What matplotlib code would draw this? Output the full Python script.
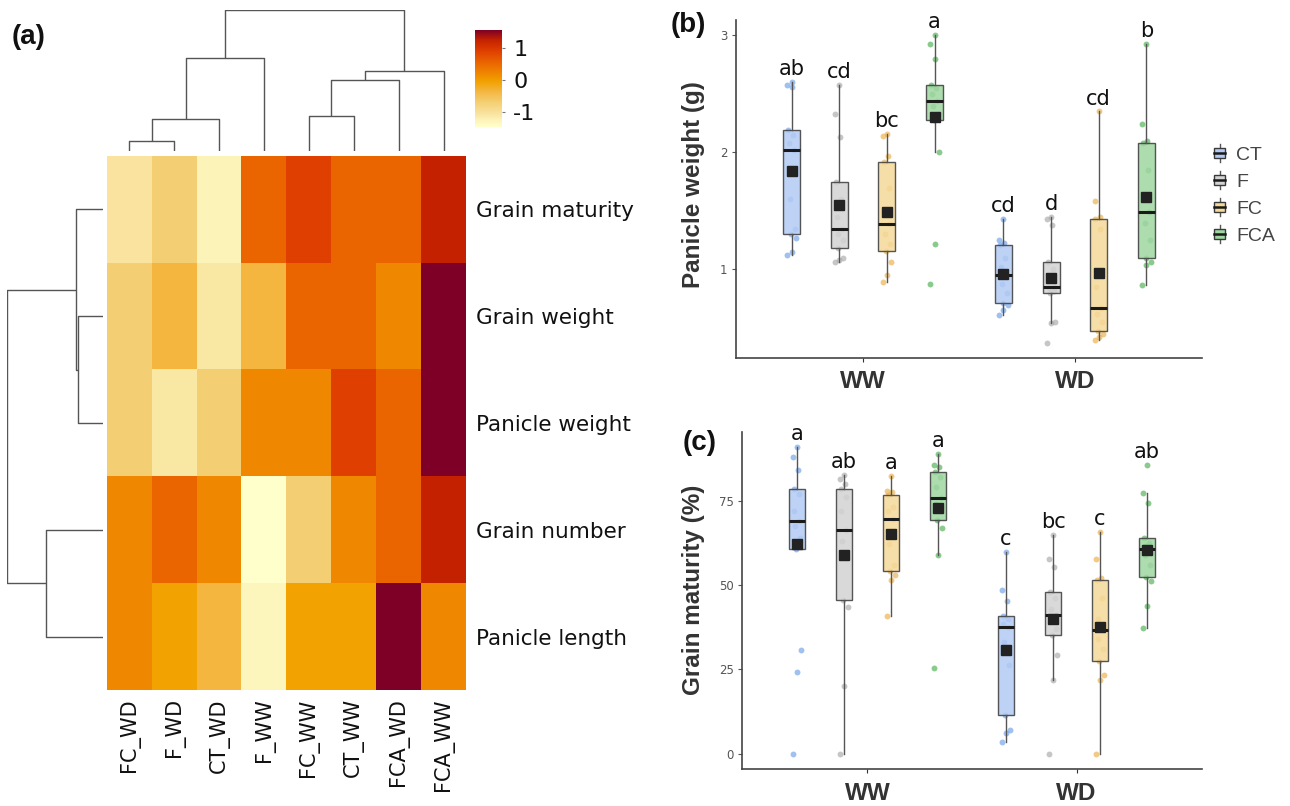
import numpy as np
import matplotlib
matplotlib.use("Agg")
import matplotlib.pyplot as plt
from matplotlib.colors import LinearSegmentedColormap
from matplotlib.legend_handler import HandlerBase
from matplotlib.patches import Rectangle
from matplotlib.lines import Line2D

# ---------------- data ----------------
hm_cols = ["FC_WD", "F_WD", "CT_WD", "F_WW", "FC_WW", "CT_WW", "FCA_WD", "FCA_WW"]
hm_rows = ["Grain maturity", "Grain weight", "Panicle weight", "Grain number", "Panicle length"]
grain_maturity = [-1.05, -0.70, -1.25, 0.55, 0.90, 0.55, 0.55, 1.25]
grain_weight = [-0.70, -0.35, -1.10, -0.35, 0.55, 0.55, 0.20, 1.56]
panicle_weight_z = [-0.70, -1.10, -0.70, 0.20, 0.20, 0.90, 0.55, 1.56]
grain_number = [0.20, 0.55, 0.20, -1.47, -0.70, 0.20, 0.55, 1.25]
panicle_length = [0.20, -0.05, -0.35, -1.30, -0.05, -0.05, 1.56, 0.20]
cbar_ticks = [-1, 0, 1]

# dendrogram merges (child a, child b, height); clusters numbered n, n+1, ...
col_merges = [(0, 1, 0.071), (8, 2, 0.227), (9, 3, 0.66), (4, 5, 0.248),
              (11, 6, 0.50), (12, 7, 0.567), (10, 13, 1.0)]
row_merges = [(1, 2, 0.257), (0, 5, 0.277), (3, 4, 0.59), (6, 7, 1.0)]

groups = ["CT", "F", "FC", "FCA"]
conditions = ["WW", "WD"]

# Panicle weight (g)
pw_ww_ct = [1.12, 1.15, 1.27, 1.30, 1.35, 1.60, 2.02, 2.08, 2.15, 2.19, 2.56, 2.58, 2.60]
pw_ww_f = [1.065, 1.08, 1.10, 1.18, 1.25, 1.30, 1.345, 1.45, 1.60, 1.745, 2.13, 2.33, 2.58]
pw_ww_fc = [0.89, 0.95, 1.06, 1.155, 1.22, 1.30, 1.385, 1.50, 1.70, 1.92, 1.97, 2.14, 2.155]
pw_ww_fca = [0.88, 1.22, 2.00, 2.277, 2.33, 2.40, 2.44, 2.50, 2.55, 2.575, 2.80, 2.93, 3.00]
pw_wd_ct = [0.61, 0.65, 0.70, 0.716, 0.80, 0.88, 0.95, 1.02, 1.10, 1.205, 1.23, 1.25, 1.43]
pw_wd_f = [0.375, 0.54, 0.55, 0.796, 0.82, 0.84, 0.847, 0.92, 1.00, 1.062, 1.38, 1.43, 1.448]
pw_wd_fc = [0.398, 0.42, 0.45, 0.478, 0.55, 0.62, 0.668, 0.85, 1.35, 1.434, 1.45, 1.584, 2.35]
pw_wd_fca = [0.866, 1.04, 1.065, 1.102, 1.25, 1.40, 1.49, 1.60, 1.85, 2.078, 2.10, 2.24, 2.923]
pw_letters = ["ab", "cd", "bc", "a", "cd", "d", "cd", "b"]

# Grain maturity (%)
gm_ww_ct = [0.0, 24.2, 30.6, 60.7, 64.0, 67.5, 69.1, 72.0, 77.0, 78.5, 84.0, 88.0, 90.8]
gm_ww_f = [0.0, 20.0, 43.4, 45.5, 58.0, 63.0, 66.4, 72.0, 76.0, 78.5, 80.0, 81.5, 82.6]
gm_ww_fc = [40.7, 51.5, 53.0, 54.2, 56.0, 62.0, 69.7, 72.0, 73.0, 76.8, 77.5, 78.0, 82.2]
gm_ww_fca = [25.4, 58.8, 66.9, 69.2, 73.0, 74.0, 75.8, 79.0, 82.0, 83.4, 85.0, 85.5, 88.8]
gm_wd_ct = [3.6, 6.1, 7.1, 11.5, 26.2, 33.0, 37.4, 38.5, 40.0, 40.9, 45.3, 48.6, 59.8]
gm_wd_f = [0.0, 21.8, 29.2, 35.2, 37.0, 39.5, 41.2, 43.0, 46.0, 48.0, 55.2, 57.6, 64.7]
gm_wd_fc = [0.0, 21.8, 23.3, 27.4, 31.0, 34.0, 36.8, 40.0, 46.0, 51.5, 52.0, 57.6, 65.7]
gm_wd_fca = [37.2, 43.9, 51.2, 52.4, 56.0, 59.0, 60.6, 61.5, 62.5, 63.8, 74.3, 77.2, 85.6]
gm_letters = ["a", "ab", "a", "a", "c", "bc", "c", "ab"]

# ---------------- style ----------------
W, H = 1290, 806
plt.rcParams["font.family"] = ["DejaVu Sans"]
fig = plt.figure(figsize=(W / 100, H / 100), dpi=100)


def add_ax(x0, y0, x1, y1):
    return fig.add_axes([x0 / W, 1 - y1 / H, (x1 - x0) / W, (y1 - y0) / H])


cmap = LinearSegmentedColormap.from_list(
    "hm",
    [(0.00, "#FFFFCC"), (0.073, "#FCF3B8"), (0.139, "#F9E39E"), (0.254, "#F5CF73"),
     (0.370, "#F4B63F"), (0.469, "#F2A200"), (0.551, "#F08800"), (0.667, "#EA6500"),
     (0.782, "#E04000"), (0.898, "#C52200"), (1.00, "#7E0026")])
vmin, vmax = -1.47, 1.56

# ---------------- panel (a) heatmap ----------------
hx0, hx1, hy0, hy1 = 107, 466, 156, 690
ax_hm = add_ax(hx0, hy0, hx1, hy1)
mat = np.array([grain_maturity, grain_weight, panicle_weight_z, grain_number, panicle_length])
ax_hm.imshow(mat, cmap=cmap, vmin=vmin, vmax=vmax, aspect="auto", interpolation="nearest")
ax_hm.set_xticks(range(len(hm_cols)))
ax_hm.set_xticklabels(hm_cols, rotation=90, fontsize=15, color="#111")
ax_hm.set_yticks(range(len(hm_rows)))
ax_hm.set_yticklabels(hm_rows, fontsize=15.5, color="#111")
ax_hm.yaxis.tick_right()
ax_hm.tick_params(axis="both", length=0)
ax_hm.tick_params(axis="x", pad=6)
ax_hm.tick_params(axis="y", pad=7)
for s in ax_hm.spines.values():
    s.set_visible(False)


def dendro_segments(n, merges):
    pos = {i: float(i) for i in range(n)}
    hgt = {i: 0.0 for i in range(n)}
    segs = []
    for k, (a, b, h) in enumerate(merges):
        segs.append(([pos[a], pos[a], pos[b], pos[b]], [hgt[a], h, h, hgt[b]]))
        pos[n + k] = (pos[a] + pos[b]) / 2
        hgt[n + k] = h
    return segs


ax_cd = add_ax(hx0, 10, hx1, 151)
for xs, hs in dendro_segments(len(hm_cols), col_merges):
    ax_cd.plot(xs, hs, color="#555555", lw=1.0, solid_capstyle="butt")
ax_cd.set_xlim(-0.5, len(hm_cols) - 0.5)
ax_cd.set_ylim(0, 1)
ax_cd.axis("off")

ax_rd = add_ax(7, hy0, 102.5, hy1)
for xs, hs in dendro_segments(len(hm_rows), row_merges):
    ax_rd.plot(hs, xs, color="#555555", lw=1.0, solid_capstyle="butt")
ax_rd.set_ylim(len(hm_rows) - 0.5, -0.5)
ax_rd.set_xlim(1, 0)
ax_rd.axis("off")

ax_cb = add_ax(475, 30, 502, 127)
grad = np.linspace(vmin, vmax, 256).reshape(-1, 1)
ax_cb.imshow(grad, cmap=cmap, vmin=vmin, vmax=vmax, aspect="auto", origin="lower",
             extent=[0, 1, vmin, vmax])
ax_cb.set_xticks([])
ax_cb.yaxis.tick_right()
ax_cb.set_yticks(cbar_ticks)
ax_cb.set_yticklabels([str(t) for t in cbar_ticks], fontsize=16, color="#111")
ax_cb.tick_params(axis="y", length=2, color="#777777", pad=6)
for s in ax_cb.spines.values():
    s.set_visible(False)

# ---------------- panels (b) and (c) ----------------
box_fill = {"CT": "#B3CBF4", "F": "#D3D3D3", "FC": "#F5D999", "FCA": "#9FD6A1"}
pt_col = {"CT": "#6E9FE8", "F": "#A8A8A8", "FC": "#EBAE45", "FCA": "#4CAF50"}
offsets = [-0.3375, -0.1125, 0.1125, 0.3375]
bold_font = ["Liberation Sans", "DejaVu Sans"]


def box_panel(ax, data, letters, yticks, ylabel, label_x, label_y):
    allv = np.concatenate([np.asarray(v, float) for v in data])
    lo, hi = allv.min(), allv.max()
    pad = 0.05 * (hi - lo)
    k = 0
    for ci, cond in enumerate(conditions):
        for gi, g in enumerate(groups):
            vals = np.asarray(data[k], float)
            x = ci + 1 + offsets[gi]
            idx = np.arange(len(vals))
            jit = (((idx * 5) % 11) / 10.0 - 0.5) * 0.04
            ax.scatter(x + jit, vals, s=18, color=pt_col[g], alpha=0.65, lw=0, zorder=1)
            ax.boxplot([vals], positions=[x], widths=0.08, patch_artist=True,
                       showfliers=False, showcaps=False, whis=1.5, manage_ticks=False,
                       boxprops=dict(facecolor=box_fill[g], edgecolor="#3A3A3A", lw=1.0, alpha=0.85),
                       medianprops=dict(color="#1A1A1A", lw=2.2),
                       whiskerprops=dict(color="#555555", lw=1.0), zorder=2)
            ax.plot([x], [vals.mean()], marker="s", ms=6.5, color="#222222", lw=0, zorder=4)
            ax.annotate(letters[k], (x, vals.max()), xytext=(0, 5), textcoords="offset points",
                        ha="center", va="baseline", fontsize=15, color="#111",
                        annotation_clip=False)
            k += 1
    ax.set_xlim(0.4, 2.6)
    ax.set_ylim(lo - pad, hi + pad)
    ax.set_xticks([1, 2])
    ax.set_xticklabels(conditions, fontsize=17.5, fontweight="bold", color="#333333",
                       family=bold_font)
    ax.set_yticks(yticks)
    ax.set_yticklabels([str(t) for t in yticks], fontsize=8.5, color="#555555")
    ax.tick_params(axis="y", length=3, color="#555555", pad=3)
    ax.tick_params(axis="x", length=3, color="#333333", pad=6)
    for s in ["top", "right"]:
        ax.spines[s].set_visible(False)
    for s in ["left", "bottom"]:
        ax.spines[s].set_color("#444444")
        ax.spines[s].set_linewidth(1.2)
    ax.set_ylabel(ylabel, fontsize=17.5, fontweight="bold", color="#333333", family=bold_font)
    ax.yaxis.set_label_coords(label_x, label_y)


ax_b = add_ax(736, 20, 1202, 358)
box_panel(ax_b, [pw_ww_ct, pw_ww_f, pw_ww_fc, pw_ww_fca, pw_wd_ct, pw_wd_f, pw_wd_fc, pw_wd_fca],
          pw_letters, [1, 2, 3], "Panicle weight (g)", -0.067, 0.512)

ax_c = add_ax(742, 432, 1202, 769)
box_panel(ax_c, [gm_ww_ct, gm_ww_f, gm_ww_fc, gm_ww_fca, gm_wd_ct, gm_wd_f, gm_wd_fc, gm_wd_fca],
          gm_letters, [0, 25, 50, 75], "Grain maturity (%)", -0.080, 0.531)


# legend with boxplot glyphs
class BoxHandler(HandlerBase):
    def create_artists(self, legend, orig_handle, xdescent, ydescent, width, height,
                       fontsize, trans):
        x0, y0 = -xdescent, -ydescent
        fc = orig_handle.get_facecolor()
        bl, br = x0 + width * 0.1, x0 + width * 0.9
        bb, bt = y0 + height * 0.18, y0 + height * 0.82
        xm = x0 + width / 2
        arts = [
            Line2D([xm, xm], [y0 - height * 0.05, bb], color="#555555", lw=1, transform=trans),
            Line2D([xm, xm], [bt, y0 + height * 1.05], color="#555555", lw=1, transform=trans),
            Rectangle((bl, bb), br - bl, bt - bb, facecolor=fc, edgecolor="#3A3A3A",
                      lw=1, transform=trans),
            Line2D([bl, br], [y0 + height / 2] * 2, color="#1A1A1A", lw=1.8, transform=trans),
        ]
        return arts


handles = [Rectangle((0, 0), 1, 1, facecolor=box_fill[g]) for g in groups]
fig.legend(handles, groups, handler_map={Rectangle: BoxHandler()},
           loc="center left", bbox_to_anchor=(1213 / W, 1 - 195 / H), frameon=False,
           handlelength=0.7, handleheight=0.9, handletextpad=0.5, labelspacing=0.42,
           borderaxespad=0, borderpad=0,
           prop={"family": ["Liberation Sans Narrow", "Liberation Sans"], "size": 14},
           labelcolor="#444444")

# panel letters
for lab, (px, py) in {"(a)": (29, 37), "(b)": (688, 25), "(c)": (700, 443)}.items():
    fig.text(px / W, 1 - py / H, lab, fontsize=20, fontweight="bold", ha="center",
             va="center", family=bold_font, color="#111")

fig.savefig("out.png", dpi=100)
